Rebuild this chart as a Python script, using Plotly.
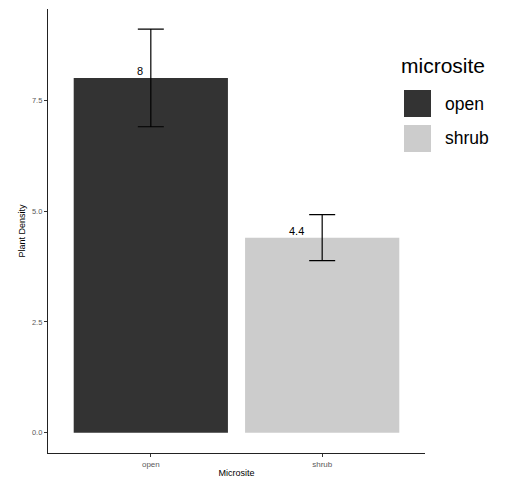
import plotly.graph_objects as go

# Mean plant density per microsite with standard error
microsites = ["open", "shrub"]
density = [8.0, 4.4]
density_se = [1.1, 0.52]
value_labels = ["8", "4.4"]
fill_colors = ["#333333", "#CCCCCC"]

W, H = 505, 479
M_L, M_R, M_T, M_B = 48, 80, 9, 26
FONT = "Liberation Sans, Arial, sans-serif"
TICK_GREY = "#5A5A5A"

fig = go.Figure()
for name, val, se, col in zip(microsites, density, density_se, fill_colors):
    fig.add_trace(go.Bar(
        x=[name], y=[val], name=name, width=0.9,
        marker=dict(color=col, line=dict(width=0)),
        error_y=dict(type="data", array=[se], color="black",
                     thickness=1.2, width=13),
        showlegend=False,
    ))

# value labels sitting just above each bar, nudged left of centre
for name, val, lab in zip(microsites, density, value_labels):
    fig.add_annotation(
        x=name, y=val, text=lab, showarrow=False,
        xanchor="right", yanchor="bottom",
        xshift=-6 * len(lab) + (2 if len(lab) > 1 else 0), yshift=-1,
        font=dict(family=FONT, size=11, color="black"),
    )

# hand-built legend to the right of the panel
plot_w = W - M_L - M_R
plot_h = H - M_T - M_B


def px_x(px):
    return (px - M_L) / plot_w


def px_y(py):
    return (H - M_B - py) / plot_h


fig.add_annotation(
    xref="paper", yref="paper", x=px_x(399), y=px_y(65),
    text="microsite", showarrow=False, xanchor="left", yanchor="middle",
    font=dict(family=FONT, size=21, color="black"),
)
key_top = 90
key_size = 27
key_gap = 35
for i, (name, col) in enumerate(zip(microsites, fill_colors)):
    top = key_top + i * key_gap
    fig.add_shape(
        type="rect", xref="paper", yref="paper",
        x0=px_x(404), x1=px_x(404 + key_size),
        y0=px_y(top + key_size), y1=px_y(top),
        fillcolor=col, line=dict(width=0),
    )
    fig.add_annotation(
        xref="paper", yref="paper", x=px_x(443), y=px_y(top + key_size / 2),
        text=name, showarrow=False, xanchor="left", yanchor="middle",
        font=dict(family=FONT, size=17.5, color="black"),
    )

fig.update_layout(
    width=W, height=H,
    margin=dict(l=M_L, r=M_R, t=M_T, b=M_B),
    paper_bgcolor="white", plot_bgcolor="white",
    bargap=0.1,
    font=dict(family=FONT, color=TICK_GREY),
)
fig.update_xaxes(
    range=[-0.6, 1.6], showgrid=False, zeroline=False,
    showline=True, linecolor="#222222", linewidth=1.2,
    ticks="outside", ticklen=3, tickcolor="#333333",
    tickfont=dict(family=FONT, size=8, color=TICK_GREY),
    title=dict(text="Microsite", font=dict(family=FONT, size=9, color="black"),
               standoff=1),
    automargin=False,
)
fig.update_yaxes(
    range=[-0.455, 9.555], showgrid=False, zeroline=False,
    showline=True, linecolor="#222222", linewidth=1.2,
    tickvals=[0, 2.5, 5, 7.5], ticktext=["0.0", "2.5", "5.0", "7.5"],
    ticks="outside", ticklen=3, tickcolor="#333333",
    tickfont=dict(family=FONT, size=7.5, color=TICK_GREY),
    title=dict(text="Plant Density", font=dict(family=FONT, size=9, color="black"),
               standoff=4),
    automargin=False,
)

fig.write_html("out.html")
